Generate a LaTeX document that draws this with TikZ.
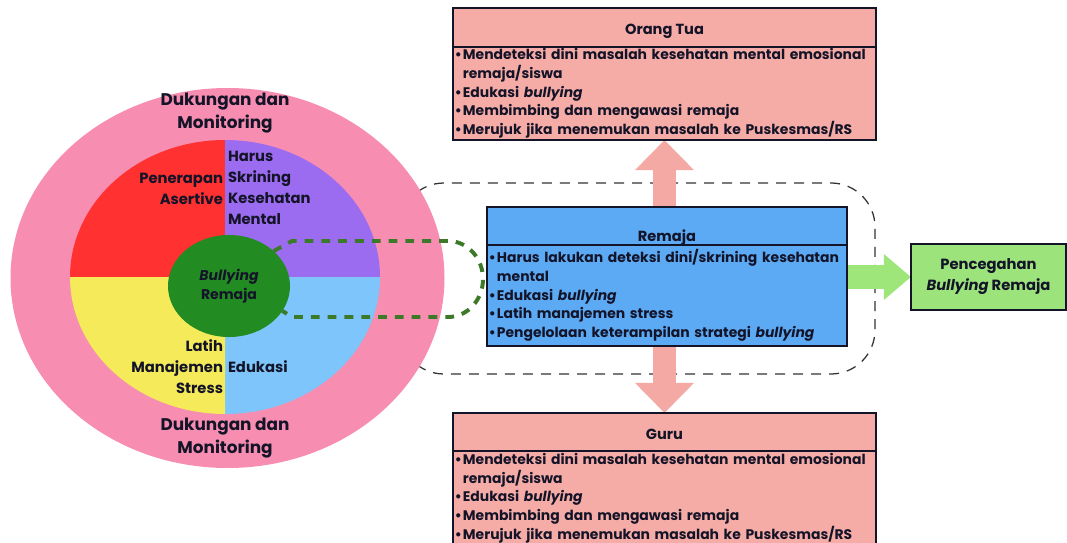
\documentclass[tikz,border=0pt]{standalone}
\usepackage{fontspec}
\setmainfont{Poppins}
\usetikzlibrary{positioning,shapes.geometric,arrows.meta}
\pgfdeclarelayer{back}
\pgfdeclarelayer{bg}
\pgfsetlayers{back,bg,main}
\definecolor{ringpink}{HTML}{F78DB0}
\definecolor{quadred}{HTML}{FF3131}
\definecolor{quadpurple}{HTML}{9C6CF0}
\definecolor{quadyellow}{HTML}{F4EA5A}
\definecolor{quadblue}{HTML}{7DC5FB}
\definecolor{coregreen}{HTML}{228B22}
\definecolor{boxpink}{HTML}{F6ACA6}
\definecolor{arrowpink}{HTML}{F5A9A4}
\definecolor{boxblue}{HTML}{5CA9F4}
\definecolor{boxgreen}{HTML}{9CE37C}
\definecolor{arrowgreen}{HTML}{9EE67A}
\definecolor{dashgreen}{HTML}{3C7A2A}
\definecolor{inkdark}{HTML}{141428}
\newcommand{\bul}{\makebox[0.2cm][l]{\textbullet}}
\newcommand{\ind}{\hspace*{0.2cm}}
\begin{document}
\begin{tikzpicture}[x=0.025cm,y=0.025cm,inner sep=0pt,outer sep=0pt,text=inkdark,
	ringtext/.style={align=center,font=\bfseries\fontsize{12}{16.3}\selectfont},
	quadtext/.style={font=\bfseries\fontsize{10.5}{14.9}\selectfont},
	headbox/.style={draw=inkdark,line width=1pt,minimum width=#1,font=\bfseries\fontsize{10.4}{12}\selectfont},
	listbox/.style={draw=inkdark,line width=1pt,text width=#1,inner xsep=0.05cm,align=left,font=\bfseries\fontsize{9.9}{13.3}\selectfont},
	pinkarrow/.style={draw=arrowpink,line width=0.575cm,-{Triangle[length=0.75cm,width=1.425cm]}},
	greenarrow/.style={draw=arrowgreen,line width=0.6cm,-{Triangle[length=0.675cm,width=1.1cm]}},
	greendash/.style={draw=dashgreen,line width=2.8pt,dash pattern=on 0.22cm off 0.2cm},
	graydash/.style={draw=black!80,line width=0.9pt,dash pattern=on 0.25cm off 0.2cm}]
	\useasboundingbox (0,0) rectangle (1067,542);
	\begin{pgfonlayer}{back}
	\draw[graydash,rounded corners=1.1cm] (400,168) rectangle (875,359);
	\end{pgfonlayer}
	\fill[ringpink] (227.5,264) ellipse [x radius=217,y radius=190];
	\fill[quadred] (225,265) -- (70,265) arc[start angle=180,end angle=90,x radius=155,y radius=137] -- cycle;
	\fill[quadpurple] (225,265) -- (225,402) arc[start angle=90,end angle=0,x radius=155,y radius=137] -- cycle;
	\fill[quadblue] (225,265) -- (380,265) arc[start angle=0,end angle=-90,x radius=155,y radius=137] -- cycle;
	\fill[quadyellow] (225,265) -- (225,128) arc[start angle=270,end angle=180,x radius=155,y radius=137] -- cycle;
	\node[ringtext] (dukatas) at (225,428.5) {Dukungan dan\\Monitoring};
	\node[ringtext] (dukbawah) at (225,103.5) {Dukungan dan\\Monitoring};
	\node[quadtext,align=right,anchor=east] (asertif) at (223,353.5) {Penerapan\\Asertive};
	\node[quadtext,align=left,anchor=west] (skrining) at (228,354) {Harus\\Skrining\\Kesehatan\\Mental};
	\node[quadtext,align=right,anchor=east] (stress) at (223,175) {Latih\\Manajemen\\Stress};
	\node[quadtext,align=left,anchor=west] (edukasi) at (228,175) {Edukasi};
	\node[ellipse,fill=coregreen,minimum width=3.05cm,minimum height=2.55cm,align=center,
		font=\bfseries\fontsize{10}{13.5}\selectfont] (bully) at (229,256) {\textit{Bullying}\\Remaja};
	\node[headbox=10.575cm,fill=boxpink,text height=0.65cm,text depth=0.325cm] (ortuhead) at (664.5,514.5) {Orang Tua};
	\node[listbox=10.475cm,fill=boxpink,minimum height=2.325cm,below=0pt of ortuhead] (ortubody) {\bul Mendeteksi dini masalah kesehatan mental emosional\\\ind remaja/siswa\\\bul Edukasi \textit{bullying}\\\bul Membimbing dan mengawasi remaja\\\bul Merujuk jika menemukan masalah ke Puskesmas/RS};
	\node[headbox=9cm,fill=boxblue,text height=0.85cm,text depth=0.1cm] (remajahead) at (667,316) {Remaja};
	\node[listbox=8.9cm,fill=boxblue,minimum height=2.525cm,below=0pt of remajahead] (remajabody) {\bul Harus lakukan deteksi dini/skrining kesehatan\\\ind mental\\\bul Edukasi \textit{bullying}\\\bul Latih manajemen stress\\\bul Pengelolaan keterampilan strategi \textit{bullying}};
	\node[headbox=10.575cm,fill=boxpink,text height=0.65cm,text depth=0.3cm] (guruhead) at (664.5,110) {Guru};
	\node[listbox=10.475cm,fill=boxpink,minimum height=2.35cm,below=0pt of guruhead] (gurubody) {\bul Mendeteksi dini masalah kesehatan mental emosional\\\ind remaja/siswa\\\bul Edukasi \textit{bullying}\\\bul Membimbing dan mengawasi remaja\\\bul Merujuk jika menemukan masalah ke Puskesmas/RS};
	\node[draw=inkdark,line width=1pt,fill=boxgreen,minimum width=3.875cm,minimum height=1.65cm,align=center,
		font=\bfseries\fontsize{10.5}{14.9}\selectfont] (cegah) at (988.5,265) {Pencegahan\\\textit{Bullying} Remaja};
	\draw[greendash] (bully.38) -- (292,301) -- (448,301) to[out=0,in=90] (483,263) to[out=-90,in=0] (448,225) -- (292,225) -- (bully.-25);
	\begin{pgfonlayer}{bg}
	\draw[pinkarrow] (remajabody.north -| ortubody.south) -- (ortubody.south);
	\draw[pinkarrow] (remajabody.north -| guruhead.north) -- (guruhead.north);
	\draw[greenarrow] (remajabody.east |- cegah.west) -- (cegah.west);
	\end{pgfonlayer}
\end{tikzpicture}
\end{document}
